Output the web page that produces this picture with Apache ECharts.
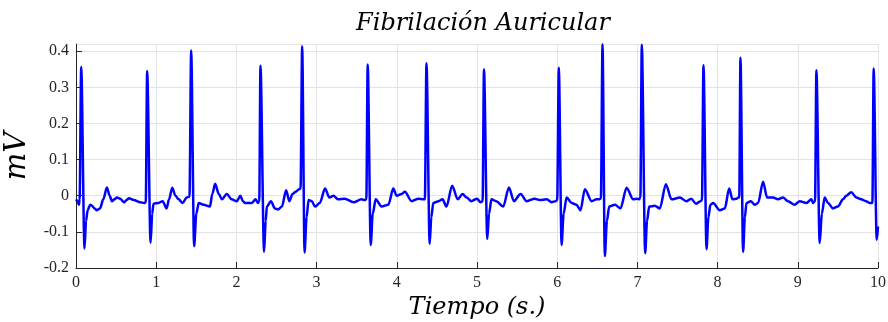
<!DOCTYPE html>
<html>
<head>
<meta charset="utf-8">
<script src="https://cdn.jsdelivr.net/npm/echarts@6/dist/echarts.min.js"></script>
<style>
  html, body { margin: 0; padding: 0; background: #fff; }
  #chart { width: 888px; height: 322px; }
</style>
</head>
<body>
<div id="chart"></div>
<script>
let tiempo = [
  0.00, 0.02, 0.036, 0.045, 0.065, 0.106, 0.125, 0.145, 0.177, 0.20, 0.23, 0.26, 0.30, 0.34, 0.385, 0.42, 0.447, 0.48, 0.51, 0.55, 0.60, 0.63, 0.66, 0.72, 0.80, 0.85, 0.87,
  0.887, 0.93, 0.95, 0.966, 1.03, 1.08, 1.13, 1.16, 1.20, 1.24, 1.28, 1.33, 1.38, 1.415,
  1.436, 1.473, 1.50, 1.53, 1.59, 1.67, 1.70, 1.735, 1.78, 1.82, 1.88, 1.94, 2.005, 2.05, 2.08, 2.11, 2.19, 2.24, 2.27, 2.285,
  2.30, 2.345, 2.365, 2.38, 2.43, 2.48, 2.52, 2.567, 2.62, 2.66, 2.70, 2.74, 2.78, 2.80,
  2.82, 2.85, 2.875, 2.90, 2.94, 2.98, 3.04, 3.105, 3.16, 3.21, 3.27, 3.35, 3.46, 3.56, 3.60, 3.62,
  3.637, 3.675, 3.70, 3.737, 3.81, 3.894, 3.956, 3.998, 4.06, 4.10, 4.185, 4.27, 4.33, 4.35,
  4.37, 4.41, 4.43, 4.455, 4.52, 4.57, 4.62, 4.69, 4.76, 4.82, 4.87, 4.93, 5.00, 5.045, 5.07,
  5.087, 5.128, 5.15, 5.18, 5.24, 5.327, 5.398, 5.46, 5.544, 5.62, 5.72, 5.78, 5.87, 5.93, 5.98, 6.00,
  6.02, 6.055, 6.08, 6.117, 6.18, 6.24, 6.29, 6.345, 6.43, 6.49, 6.52, 6.545,
  6.565, 6.594, 6.62, 6.648, 6.72, 6.79, 6.865, 6.947, 6.997, 7.02, 7.037,
  7.055, 7.097, 7.12, 7.147, 7.217, 7.28, 7.355, 7.425, 7.53, 7.61, 7.67, 7.73, 7.787, 7.805,
  7.824, 7.862, 7.885, 7.91, 7.944, 8.027, 8.09, 8.144, 8.186, 8.236, 8.257, 8.27,
  8.285, 8.318, 8.34, 8.36, 8.414, 8.464, 8.505, 8.567, 8.617, 8.69, 8.753, 8.815, 8.877, 8.96, 9.025, 9.108, 9.17, 9.19, 9.215,
  9.232, 9.273, 9.30, 9.335, 9.376, 9.438, 9.50, 9.563, 9.605, 9.667, 9.73, 9.79, 9.85, 9.894, 9.93,
  9.946, 9.984, 10.0
];
let mV = [
  -0.010, -0.015, -0.025, -0.010, 0.356, -0.146, -0.070, -0.040, -0.025, -0.028, -0.035, -0.040, -0.035, -0.010, 0.023, 0.000, -0.015, -0.010, -0.005, -0.008, -0.018, -0.012, -0.007, -0.012, -0.018, -0.020, -0.018,
  0.345, -0.130, -0.050, -0.022, -0.020, -0.015, -0.035, -0.010, 0.022, 0.000, -0.010, -0.020, -0.005, -0.003,
  0.402, -0.140, -0.050, -0.020, -0.025, -0.030, 0.005, 0.033, 0.005, -0.010, 0.005, -0.010, -0.015, 0.000, -0.015, -0.020, -0.020, -0.010, -0.020, -0.015,
  0.360, -0.155, -0.070, -0.030, -0.015, -0.035, -0.038, -0.030, 0.015, -0.015, 0.005, 0.011, 0.018, 0.020,
  0.414, -0.157, -0.060, -0.012, -0.015, -0.030, -0.020, 0.020, -0.005, 0.000, -0.010, -0.008, -0.018, -0.010, -0.012, -0.010,
  0.363, -0.136, -0.050, -0.010, -0.030, -0.025, 0.020, 0.000, 0.005, 0.011, -0.015, -0.008, -0.010, -0.010,
  0.367, -0.133, -0.060, -0.020, -0.015, -0.010, -0.030, 0.028, -0.010, 0.005, -0.005, -0.015, -0.008, -0.018, -0.015,
  0.350, -0.120, -0.050, -0.010, -0.015, -0.030, 0.023, -0.015, 0.005, -0.015, -0.008, -0.012, -0.010, -0.018, -0.015, -0.012,
  0.354, -0.136, -0.050, -0.005, -0.020, -0.025, -0.040, 0.018, -0.015, -0.010, -0.010, -0.008,
  0.419, -0.167, -0.070, -0.030, -0.025, -0.035, 0.022, -0.010, -0.008, -0.010, -0.005,
  0.418, -0.159, -0.070, -0.030, -0.028, -0.035, 0.032, -0.010, -0.005, -0.015, -0.008, -0.022, -0.015, -0.012,
  0.361, -0.148, -0.060, -0.025, -0.020, -0.040, -0.035, 0.020, -0.010, -0.008, -0.005, -0.005,
  0.382, -0.155, -0.060, -0.020, -0.015, -0.025, -0.020, 0.039, -0.005, -0.005, -0.010, -0.005, -0.015, -0.025, -0.015, -0.020, -0.010, -0.020, -0.015,
  0.347, -0.131, -0.050, -0.005, -0.020, -0.035, -0.030, -0.010, 0.000, 0.010, -0.005, -0.010, -0.015, -0.020, -0.020,
  0.352, -0.122, -0.085
];
let xTicks = ['0', '1', '2', '3', '4', '5', '6', '7', '8', '9', '10'];
let yTicks = ['-0.2', '-0.1', '0', '0.1', '0.2', '0.3', '0.4'];

let chart = echarts.init(document.getElementById('chart'));
let serif = 'Liberation Serif';
let italic = 'DejaVu Serif';
let axisColor = '#262626';

let option = {
    animation: false,
    title: {
        text: 'Fibrilación Auricular',
        left: 478,
        top: 7,
        textAlign: 'center',
        textStyle: {
            fontFamily: italic,
            fontStyle: 'italic',
            fontWeight: 'normal',
            fontSize: 24,
            color: '#000'
        }
    },
    grid: {
        left: 76,
        right: 10,
        top: 44,
        bottom: 54,
        containLabel: false,
        outerBoundsMode: 'none'
    },
    xAxis: {
        type: 'value',
        min: 0,
        max: 10,
        interval: 1,
        name: 'Tiempo (s.)',
        nameLocation: 'middle',
        nameGap: 26,
        nameTextStyle: {
            fontFamily: italic,
            fontStyle: 'italic',
            fontSize: 24,
            color: '#000'
        },
        axisLine: { onZero: false, lineStyle: { color: axisColor, width: 1 } },
        axisTick: { inside: true, length: 6, lineStyle: { color: axisColor } },
        axisLabel: {
            fontFamily: serif,
            fontSize: 16,
            color: axisColor,
            margin: 7,
            formatter: v => xTicks[Math.round(v)]
        },
        splitLine: { show: true, lineStyle: { color: '#e3e3e3', width: 1 } }
    },
    yAxis: {
        type: 'value',
        min: -0.2,
        max: 0.42,
        interval: 0.1,
        name: 'mV',
        nameLocation: 'middle',
        nameGap: 44,
        nameRotate: 90,
        nameTextStyle: {
            fontFamily: italic,
            fontStyle: 'italic',
            fontSize: 29,
            color: '#000'
        },
        axisLine: { show: true, onZero: false, lineStyle: { color: axisColor, width: 1 } },
        axisTick: { show: true, inside: true, length: 6, lineStyle: { color: axisColor } },
        axisLabel: {
            fontFamily: serif,
            fontSize: 16,
            color: axisColor,
            margin: 7,
            showMaxLabel: false,
            formatter: v => {
                let i = Math.round((v + 0.2) / 0.1);
                return yTicks[i] !== undefined ? yTicks[i] : '';
            }
        },
        splitLine: { show: true, lineStyle: { color: '#e3e3e3', width: 1 } }
    },
    series: [{
        type: 'line',
        data: tiempo.map((t, i) => [t, mV[i]]),
        showSymbol: false,
        smooth: 0.3,
        smoothMonotone: 'x',
        clip: false,
        lineStyle: { color: '#0000ff', width: 2.5, join: 'round' }
    }]
};

chart.setOption(option);
</script>
</body>
</html>
